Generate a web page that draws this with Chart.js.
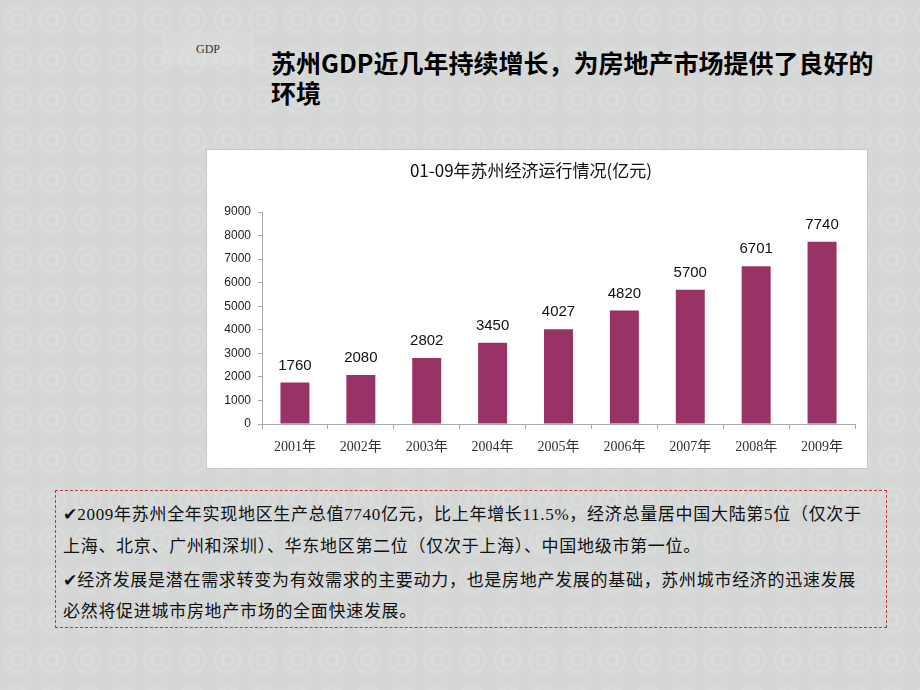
<!DOCTYPE html>
<html>
<head>
<meta charset="utf-8">
<script src="https://cdn.jsdelivr.net/npm/chart.js@4/dist/chart.umd.min.js"></script>
<style>
  html, body { margin: 0; padding: 0; }
  body {
    width: 920px; height: 690px; overflow: hidden; position: relative;
    background-color: #d5d7d7;
    background-image: radial-gradient(circle at 50% 50%, transparent 0 3px, rgba(255,255,255,.1) 4px 7px, transparent 8px 10px, rgba(255,255,255,.1) 11px 14px, transparent 15px);
    background-size: 35px 40px;
    font-family: "Liberation Serif", "Noto Sans CJK SC", serif;
  }
  .tag {
    position: absolute; left: 162px; top: 33px; width: 92px; height: 32px;
    background: rgba(255,255,255,.1);
    font-size: 12px; color: #333; text-align: center; line-height: 32px;
  }
  .title {
    position: absolute; left: 271px; top: 47px;
    font-family: "Noto Sans CJK SC", sans-serif; font-weight: bold;
    font-size: 25px; line-height: 30px; color: #000; white-space: nowrap;
  }
  .chartbox {
    position: absolute; left: 207px; top: 150px; width: 660px; height: 318px;
    background: #fff; outline: 1px solid #c8c8c8;
  }
  .note {
    position: absolute; left: 55px; top: 490px; width: 830px; height: 136px;
    border: 1px dashed #b83a3c;
  }
  .note div {
    position: absolute; left: 7px; white-space: nowrap;
    font-size: 17px; color: #111; letter-spacing: 0.7px;
  }
  .ck { font-family: "DejaVu Sans", sans-serif; font-size: 17px; letter-spacing: 0; }
</style>
</head>
<body>
<div class="tag">GDP</div>
<div class="title">苏州GDP近几年持续增长，为房地产市场提供了良好的<br>环境</div>
<div class="chartbox"><canvas id="gdpChart" width="660" height="318"></canvas></div>
<div class="note">
  <div style="top:9px"><span class="ck">✔</span>2009年苏州全年实现地区生产总值7740亿元，比上年增长11.5%，经济总量居中国大陆第5位（仅次于</div>
  <div style="top:41px">上海、北京、广州和深圳）、华东地区第二位（仅次于上海）、中国地级市第一位。</div>
  <div style="top:75px"><span class="ck">✔</span>经济发展是潜在需求转变为有效需求的主要动力，也是房地产发展的基础，苏州城市经济的迅速发展</div>
  <div style="top:106px">必然将促进城市房地产市场的全面快速发展。</div>
</div>
<script>
var years = ['2001年', '2002年', '2003年', '2004年', '2005年', '2006年', '2007年', '2008年', '2009年'];
var gdp = [1760, 2080, 2802, 3450, 4027, 4820, 5700, 6701, 7740];
var yMin = 0, yMax = 9000, yStep = 1000;

// value labels above the bars
var barLabels = {
  id: 'barLabels',
  afterDatasetsDraw: function (chart) {
    var ctx = chart.ctx;
    var meta = chart.getDatasetMeta(0);
    ctx.save();
    ctx.font = '15px "Liberation Sans", Arial, sans-serif';
    ctx.fillStyle = '#111';
    ctx.textAlign = 'center';
    ctx.textBaseline = 'middle';
    meta.data.forEach(function (bar, i) {
      ctx.fillText(gdp[i], bar.x, bar.y - 17);
    });
    ctx.restore();
  }
};

new Chart(document.getElementById('gdpChart'), {
  type: 'bar',
  data: {
    labels: years,
    datasets: [{
      data: gdp,
      backgroundColor: '#993366',
      borderWidth: 0,
      barPercentage: 0.44,
      categoryPercentage: 1
    }]
  },
  options: {
    responsive: false,
    animation: false,
    devicePixelRatio: 1,
    layout: { padding: { left: 0, right: 12, top: 0, bottom: 0 } },
    plugins: {
      legend: { display: false },
      tooltip: { enabled: false },
      title: {
        display: true,
        text: '01-09年苏州经济运行情况(亿元)',
        color: '#111',
        font: { family: '"Noto Sans CJK SC", sans-serif', size: 17, weight: 'normal' },
        padding: { top: 10, bottom: 31.6 }
      }
    },
    scales: {
      x: {
        grid: { drawOnChartArea: false, tickLength: 5, color: '#aaa', offset: true },
        border: { color: '#aaa' },
        ticks: {
          color: '#333', padding: 10,
          font: { family: '"Liberation Serif", "Noto Sans CJK SC", serif', size: 14 }
        },
        afterFit: function (scale) { scale.height = 44; }
      },
      y: {
        min: yMin, max: yMax,
        grid: { drawOnChartArea: false, tickLength: 4, color: '#aaa' },
        border: { color: '#aaa' },
        ticks: {
          stepSize: yStep, color: '#222', padding: 7,
          font: { family: '"Liberation Sans", Arial, sans-serif', size: 12 },
          callback: function (v) { return String(v); }
        },
        afterFit: function (scale) { scale.width = 55; }
      }
    }
  },
  plugins: [barLabels]
});
</script>
</body>
</html>
